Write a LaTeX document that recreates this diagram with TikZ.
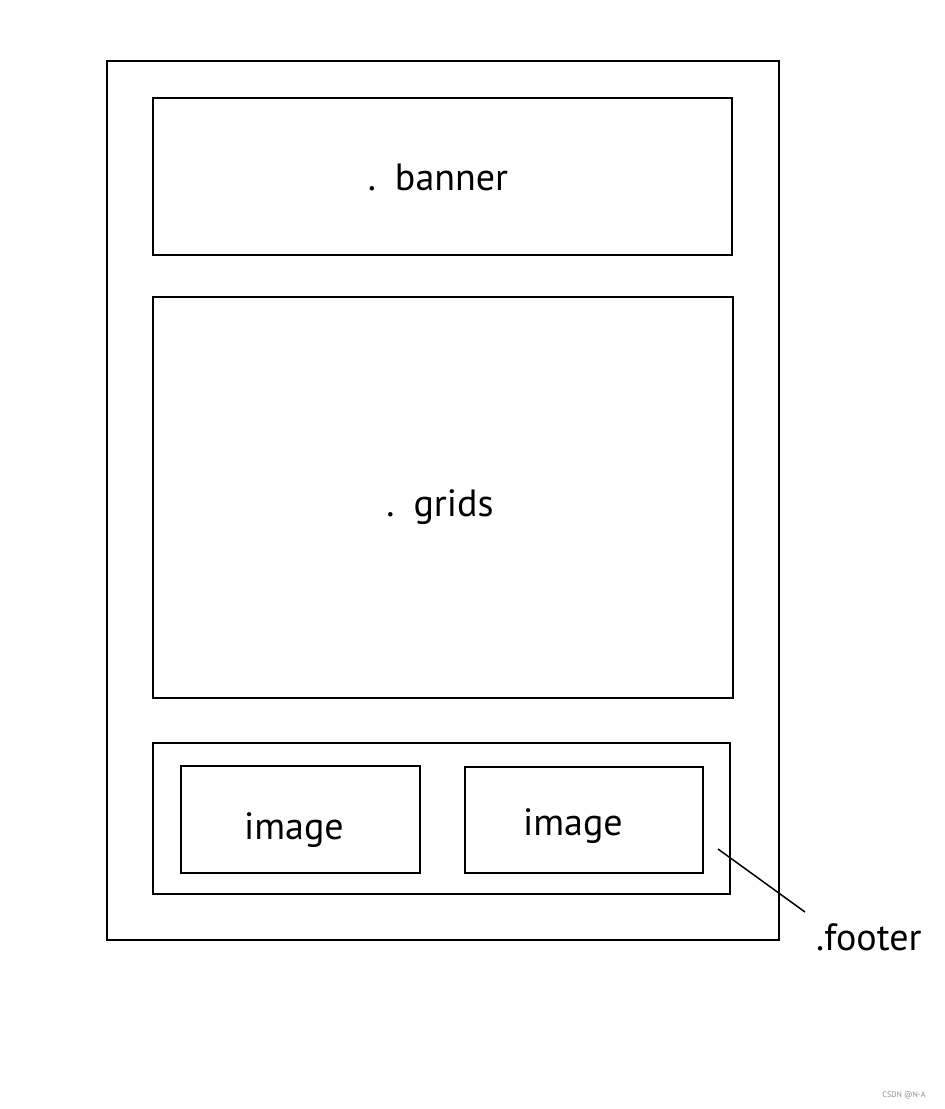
\documentclass[tikz,border=0pt]{standalone}
\usepackage{fontspec}
\setmainfont{PT Sans}
\begin{document}
\begin{tikzpicture}[x=1pt,y=-1pt,
  box/.style={draw,line width=1.8pt,inner sep=0pt},
  lbl/.style={font=\fontsize{38}{42}\selectfont,inner sep=0pt},
  wm/.style={font=\fontsize{8}{9}\selectfont,text=black!45,inner sep=0pt}]
\useasboundingbox (0,0) rectangle (945,1109);
% outer page
\node[box,minimum width=672pt,minimum height=879pt] (page) at (443,500.5) {};
% banner
\node[box,minimum width=579pt,minimum height=157pt] (banner) at (442.5,176.5) {};
\node[lbl] (bannertxt) at (438,177) {.\hspace{0.5em}banner};
% grids
\node[box,minimum width=580pt,minimum height=401pt] (grids) at (443,497.5) {};
\node[lbl] (gridstxt) at (440,507) {.\hspace{0.5em}grids};
% footer
\node[box,minimum width=577pt,minimum height=151pt] (footer) at (441.5,818.5) {};
\node[box,line width=1.5pt,minimum width=239pt,minimum height=107pt] (img1) at (300.5,819.5) {};
\node[box,line width=1.5pt,minimum width=238pt,minimum height=106pt] (img2) at (584,820) {};
\node[lbl] (img1txt) at (294,830) {image};
\node[lbl] (img2txt) at (573,826) {image};
% leader
\node[lbl,anchor=west] (footertxt) at (816,937) {.footer};
\coordinate (leadA) at (718,849);
\coordinate (leadB) at (805,912);
\draw[line width=1.5pt] (leadA) -- (leadB);
% watermark
\node[wm] (wmark) at (904,1095) {CSDN @N-A};
\end{tikzpicture}
\end{document}
